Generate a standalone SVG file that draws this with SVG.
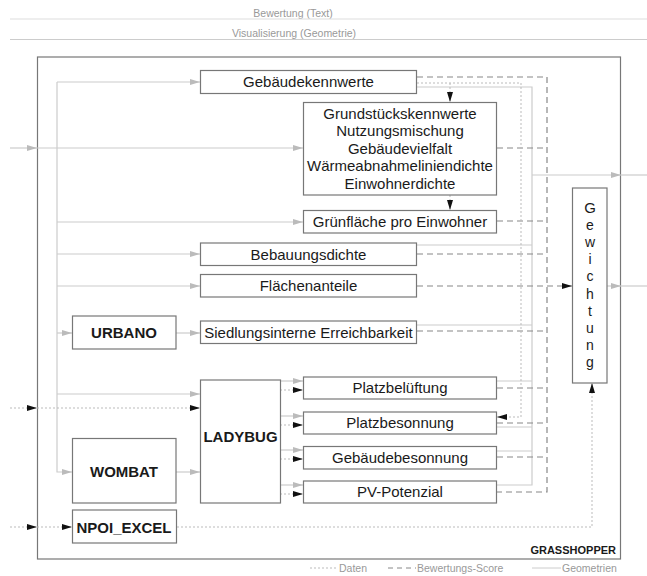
<svg xmlns="http://www.w3.org/2000/svg" width="647" height="576" viewBox="0 0 647 576">
<style>
  .box{fill:#fff;stroke:#777;stroke-width:1.2}
  .lbl{font-family:"Liberation Sans",Arial,sans-serif;font-size:15px;fill:#1a1a1a;text-anchor:middle}
  .b{font-weight:bold}
  .gw{font-size:14px}
  .top{font-family:"Liberation Sans",Arial,sans-serif;font-size:10.5px;fill:#999;text-anchor:middle}
  .leg{font-family:"Liberation Sans",Arial,sans-serif;font-size:10.5px;fill:#999}
  .geo{fill:none;stroke:#ccc;stroke-width:1.2}
  .score{fill:none;stroke:#888;stroke-width:1.2;stroke-dasharray:6,4}
  .data{fill:none;stroke:#bbb;stroke-width:1;stroke-dasharray:2,2}
</style>
<defs>
  <marker id="ag" viewBox="0 0 10 6" refX="10" refY="3" markerWidth="10" markerHeight="6" orient="auto" markerUnits="userSpaceOnUse"><path d="M0,0 L10,3 L0,6 z" fill="#bbb"/></marker>
  <marker id="ab" viewBox="0 0 10 6" refX="10" refY="3" markerWidth="10" markerHeight="6" orient="auto" markerUnits="userSpaceOnUse"><path d="M0,0 L10,3 L0,6 z" fill="#111"/></marker>
</defs>
<rect width="647" height="576" fill="#fff"/>

<g id="outputs">
  <text class="top" x="293" y="17">Bewertung (Text)</text>
  <line x1="10" y1="19" x2="647" y2="19" stroke="#ddd" stroke-width="1.2"/>
  <text class="top" x="294" y="37">Visualisierung (Geometrie)</text>
  <line x1="10" y1="39.5" x2="647" y2="39.5" stroke="#ccc" stroke-width="1.2"/>
</g>

<g id="grasshopper">
  <rect x="37.5" y="57" width="583" height="502" fill="#fff" stroke="#777" stroke-width="1.2"/>
  <text class="lbl b" x="616" y="554" style="font-size:11px;text-anchor:end">GRASSHOPPER</text>
</g>

<g id="connectors">
  <!-- geometry -->
  <path class="geo" d="M10,148 H37" marker-end="url(#ag)"/>
  <path class="geo" d="M37,148 H303" marker-end="url(#ag)"/>
  <path class="geo" d="M57,82 H200" marker-end="url(#ag)"/>
  <path class="geo" d="M57,82 V472 H72" marker-end="url(#ag)"/>
  <path class="geo" d="M57,222 H303" marker-end="url(#ag)"/>
  <path class="geo" d="M57,254 H200" marker-end="url(#ag)"/>
  <path class="geo" d="M57,286 H200" marker-end="url(#ag)"/>
  <path class="geo" d="M57,333 H72" marker-end="url(#ag)"/>
  <path class="geo" d="M57,394 H200" marker-end="url(#ag)"/>
  <path class="geo" d="M176,333 H200" marker-end="url(#ag)"/>
  <path class="geo" d="M176,472 H200" marker-end="url(#ag)"/>
  <path class="geo" d="M280,381 H303" marker-end="url(#ag)"/>
  <path class="geo" d="M280,416 H303" marker-end="url(#ag)"/>
  <path class="geo" d="M280,450 H303" marker-end="url(#ag)"/>
  <path class="geo" d="M280,485 H303" marker-end="url(#ag)"/>
  <path class="geo" d="M417,87 H532 V485 H497"/>
  <path class="geo" d="M417,245 H532"/>
  <path class="geo" d="M417,325 H532"/>
  <path class="geo" d="M497,381 H532"/>
  <path class="geo" d="M497,427 H532"/>
  <path class="geo" d="M497,451 H532"/>
  <path class="geo" d="M532,175 H621" marker-end="url(#ag)"/>
  <path class="geo" d="M621,175 H647"/>
  <path class="geo" d="M607,286 H621" marker-end="url(#ag)"/>
  <path class="geo" d="M621,286 H647"/>
  <!-- scores -->
  <path class="score" d="M417,77 H547 V492 H497"/>
  <path class="score" d="M497,148 H547"/>
  <path class="score" d="M497,221 H547"/>
  <path class="score" d="M417,254 H547"/>
  <path class="score" d="M417,331 H547"/>
  <path class="score" d="M497,388 H547"/>
  <path class="score" d="M497,423 H547"/>
  <path class="score" d="M497,457 H547"/>
  <path class="score" d="M417,286 H572" marker-end="url(#ab)"/>
  <!-- data -->
  <path class="data" d="M417,83 H521 V417 H497" marker-end="url(#ab)"/>
  <path class="data" d="M450,83 V102" marker-end="url(#ab)"/>
  <path class="data" d="M450,195 V210" marker-end="url(#ab)"/>
  <path class="data" d="M10,408 H37" marker-end="url(#ab)"/>
  <path class="data" d="M37,408 H200" marker-end="url(#ab)"/>
  <path class="data" d="M10,527 H37" marker-end="url(#ab)"/>
  <path class="data" d="M37,527 H72" marker-end="url(#ab)"/>
  <path class="data" d="M280,390 H303" marker-end="url(#ab)"/>
  <path class="data" d="M280,425 H303" marker-end="url(#ab)"/>
  <path class="data" d="M280,459 H303" marker-end="url(#ab)"/>
  <path class="data" d="M280,494 H303" marker-end="url(#ab)"/>
  <path class="data" d="M177,527 H592 V383" marker-end="url(#ab)"/>
</g>

<g id="gebaeudekennwerte"><rect class="box" x="200.5" y="70.5" width="216" height="23"/><text class="lbl" x="308.5" y="87">Gebäudekennwerte</text></g>
<g id="grundstueck"><rect class="box" x="303.5" y="102.5" width="193" height="92.5"/>
  <text class="lbl" x="400" y="118.6">Grundstückskennwerte</text>
  <text class="lbl" x="400" y="136.2">Nutzungsmischung</text>
  <text class="lbl" x="400" y="153.7">Gebäudevielfalt</text>
  <text class="lbl" x="400" y="171.3">Wärmeabnahmeliniendichte</text>
  <text class="lbl" x="400" y="188.7">Einwohnerdichte</text>
</g>
<g id="gruenflaeche"><rect class="box" x="303.5" y="210.5" width="193" height="22.5"/><text class="lbl" x="400" y="227">Grünfläche pro Einwohner</text></g>
<g id="bebauungsdichte"><rect class="box" x="200.5" y="243" width="216" height="22.5"/><text class="lbl" x="308.5" y="259.5">Bebauungsdichte</text></g>
<g id="flaechenanteile"><rect class="box" x="200.5" y="274.5" width="216" height="22.5"/><text class="lbl" x="308.5" y="291">Flächenanteile</text></g>
<g id="urbano"><rect class="box" x="72.5" y="316" width="103.5" height="33"/><text class="lbl b" x="124" y="338">URBANO</text></g>
<g id="erreichbarkeit"><rect class="box" x="200.5" y="321" width="216" height="22.5"/><text class="lbl" x="308.5" y="337.5">Siedlungsinterne Erreichbarkeit</text></g>
<g id="ladybug"><rect class="box" x="200.5" y="380" width="80" height="123"/><text class="lbl b" x="240.5" y="442">LADYBUG</text></g>
<g id="wombat"><rect class="box" x="72.5" y="438.5" width="103.5" height="64.5"/><text class="lbl b" x="124" y="476.5">WOMBAT</text></g>
<g id="npoi"><rect class="box" x="72.5" y="510" width="104" height="33"/><text class="lbl b" x="124" y="532.5">NPOI_EXCEL</text></g>
<g id="platzbelueftung"><rect class="box" x="303.5" y="377" width="193" height="22"/><text class="lbl" x="400" y="393">Platzbelüftung</text></g>
<g id="platzbesonnung"><rect class="box" x="303.5" y="412" width="193" height="22"/><text class="lbl" x="400" y="428">Platzbesonnung</text></g>
<g id="gebaeudebesonnung"><rect class="box" x="303.5" y="446.5" width="193" height="22.5"/><text class="lbl" x="400" y="462.5">Gebäudebesonnung</text></g>
<g id="pv"><rect class="box" x="303.5" y="481" width="193" height="22"/><text class="lbl" x="400" y="497">PV-Potenzial</text></g>
<g id="gewichtung"><rect class="box" x="572.5" y="188" width="34.5" height="195"/>
  <text class="lbl gw" x="590" y="212.5" style="font-size:15px">G</text>
  <text class="lbl gw" x="590" y="229.7">e</text>
  <text class="lbl gw" x="590" y="246.9">w</text>
  <text class="lbl gw" x="590" y="264.1">i</text>
  <text class="lbl gw" x="590" y="281.3">c</text>
  <text class="lbl gw" x="590" y="298.5">h</text>
  <text class="lbl gw" x="590" y="315.7">t</text>
  <text class="lbl gw" x="590" y="332.9">u</text>
  <text class="lbl gw" x="590" y="350.1">n</text>
  <text class="lbl gw" x="590" y="367.3">g</text>
</g>

<g id="legend">
  <line x1="310" y1="568" x2="338" y2="568" stroke="#bbb" stroke-width="1" stroke-dasharray="2,2"/>
  <text class="leg" x="339" y="572">Daten</text>
  <line x1="388" y1="568" x2="416" y2="568" stroke="#888" stroke-width="1" stroke-dasharray="5,4"/>
  <text class="leg" x="417" y="572">Bewertungs-Score</text>
  <line x1="532" y1="568" x2="561" y2="568" stroke="#ccc" stroke-width="1"/>
  <text class="leg" x="562" y="572">Geometrien</text>
</g>
</svg>
